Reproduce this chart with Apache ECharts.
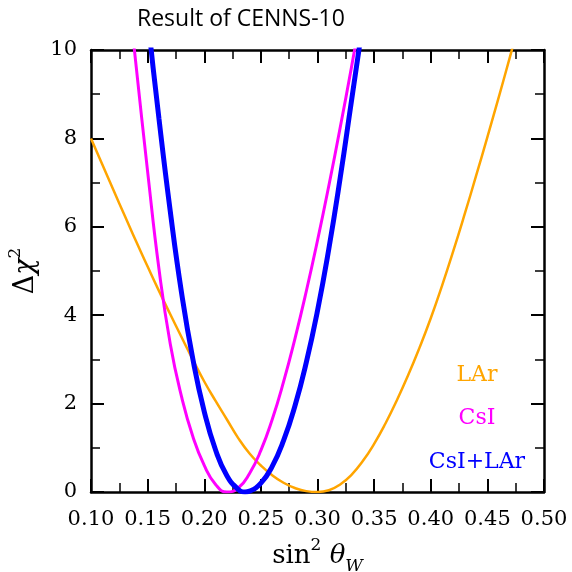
<!DOCTYPE html>
<html>
<head>
<meta charset="utf-8">
<script src="https://cdn.jsdelivr.net/npm/echarts@6/dist/echarts.min.js"></script>
<style>
  html, body { margin: 0; padding: 0; background: #fff; }
  #chart { width: 572px; height: 572px; }
</style>
</head>
<body>
<div id="chart"></div>
<script>
// Δχ² profiles versus sin²θ_W for the CENNS-10 fits
const seriesNames = ['LAr', 'CsI', 'CsI+LAr'];
const seriesColors = ['#FFA500', '#FF00FF', '#0000FF'];

const larX = [0.10, 0.11, 0.12, 0.13, 0.14, 0.15, 0.16, 0.17, 0.18, 0.19, 0.20, 0.21, 0.22, 0.23, 0.24, 0.25, 0.26, 0.27, 0.28, 0.29, 0.30,
              0.31, 0.32, 0.33, 0.34, 0.35, 0.36, 0.37, 0.38, 0.39, 0.40, 0.41, 0.42, 0.43, 0.44, 0.45, 0.46, 0.47, 0.48];
const larY = [8.0, 7.41, 6.82, 6.24, 5.66, 5.1, 4.55, 4.02, 3.5, 2.99, 2.5, 2.06, 1.64, 1.22, 0.87, 0.6, 0.38, 0.21, 0.09, 0.02, 0.0,
              0.04, 0.17, 0.39, 0.70, 1.09, 1.55, 2.07, 2.64, 3.26, 3.93, 4.67, 5.46, 6.29, 7.15, 8.03, 8.93, 9.85, 10.79];

const csiX = [0.13, 0.14, 0.15, 0.16, 0.17, 0.18, 0.19, 0.20, 0.21, 0.22, 0.23, 0.24, 0.25, 0.26, 0.27, 0.28, 0.29, 0.30, 0.31, 0.32, 0.33, 0.34];
const csiY = [12.0, 9.6, 7.25, 5.05, 3.35, 2.15, 1.25, 0.6, 0.17, 0.0, 0.09, 0.42, 0.94, 1.64, 2.49, 3.46, 4.53, 5.69, 6.93, 8.24, 9.61, 11.04];

const combX = [0.14, 0.15, 0.16, 0.17, 0.18, 0.19, 0.20, 0.21, 0.22, 0.23, 0.236, 0.24, 0.25, 0.26, 0.27, 0.28, 0.29, 0.30, 0.31, 0.32, 0.33, 0.34];
const combY = [13.25, 10.75, 8.45, 6.35, 4.5, 3.0, 1.82, 0.95, 0.37, 0.06, 0.0, 0.02, 0.2, 0.58, 1.16, 1.94, 2.92, 4.1, 5.5, 7.1, 8.85, 10.6];

const xTicks = { min: 0.10, max: 0.50, step: 0.05 };
const yTicks = { min: 0, max: 10, step: 2 };

const lineWidths = [2.5, 3, 5];
const pairs = (xs, ys) => xs.map((x, i) => [x, ys[i]]);
const allData = [pairs(larX, larY), pairs(csiX, csiY), pairs(combX, combY)];

const serif = 'DejaVu Serif';
const frame = { show: true, onZero: false, lineStyle: { color: '#000', width: 2.5 } };
const majorTick = { show: true, inside: true, length: 13, lineStyle: { color: '#000', width: 2 } };
const minorTick = { show: true, splitNumber: 2, length: 9, lineStyle: { color: '#000', width: 1.5 } };

function xAxisDef(pos, withLabels) {
  return {
    type: 'value', position: pos, min: xTicks.min, max: xTicks.max, interval: xTicks.step,
    axisLine: frame, axisTick: majorTick, minorTick: minorTick, splitLine: { show: false },
    axisLabel: withLabels ? { show: true, margin: 17, color: '#000', fontFamily: serif, fontSize: 21,
                              formatter: v => v.toFixed(2) } : { show: false }
  };
}
function yAxisDef(pos, withLabels) {
  return {
    type: 'value', position: pos, min: yTicks.min, max: yTicks.max, interval: yTicks.step,
    axisLine: frame, axisTick: majorTick, minorTick: minorTick, splitLine: { show: false },
    axisLabel: withLabels ? { show: true, margin: 14, color: '#000', fontFamily: serif, fontSize: 21 } : { show: false }
  };
}

const chart = echarts.init(document.getElementById('chart'), null, { renderer: 'canvas' });

const xMain = xAxisDef('bottom', true);
xMain.name = '{a|sin}{sup|2}{a| }{th|θ}{sub|W}';
xMain.nameLocation = 'middle';
xMain.nameGap = 45;
xMain.nameTextStyle = {
  rich: {
    a: { fontFamily: serif, fontSize: 26, color: '#000', lineHeight: 38 },
    sup: { fontFamily: serif, fontSize: 17, color: '#000', verticalAlign: 'top', lineHeight: 38 },
    th: { fontFamily: serif, fontSize: 26, fontStyle: 'italic', color: '#000', lineHeight: 38 },
    sub: { fontFamily: serif, fontSize: 17, fontStyle: 'italic', color: '#000', verticalAlign: 'bottom', lineHeight: 38 }
  }
};

const yMain = yAxisDef('left', true);
yMain.name = '{a|Δ}{chi|χ}{sup|2}';
yMain.nameLocation = 'middle';
yMain.nameRotate = 90;
yMain.nameGap = 43;
yMain.nameTextStyle = {
  rich: {
    a: { fontFamily: serif, fontSize: 27, color: '#000', lineHeight: 38 },
    chi: { fontFamily: serif, fontSize: 27, fontStyle: 'italic', color: '#000', lineHeight: 38 },
    sup: { fontFamily: serif, fontSize: 17, color: '#000', verticalAlign: 'top', lineHeight: 38 }
  }
};

const legendY = [375, 418, 462];

chart.setOption({
  animation: false,
  backgroundColor: '#fff',
  title: {
    text: 'Result of CENNS-10', left: 132, top: 3,
    textStyle: { fontFamily: 'Open Sans', fontSize: 23, fontWeight: 'normal', color: '#000' }
  },
  grid: { left: 91, top: 50, width: 453, height: 442, outerBoundsMode: 'none' },
  xAxis: [xMain, xAxisDef('top', false)],
  yAxis: [yMain, yAxisDef('right', false)],
  series: seriesNames.map((name, i) => ({
    name: name, type: 'line', xAxisIndex: 0, yAxisIndex: 0,
    data: allData[i], showSymbol: false, smooth: 0.5, clip: true,
    lineStyle: { color: seriesColors[i], width: lineWidths[i] },
    z: 2 + i
  })),
  graphic: seriesNames.map((name, i) => ({
    type: 'text', x: 477, y: legendY[i],
    style: { text: name, fill: seriesColors[i], font: '22px "' + serif + '"', textAlign: 'center', textVerticalAlign: 'middle' }
  }))
});
</script>
</body>
</html>
